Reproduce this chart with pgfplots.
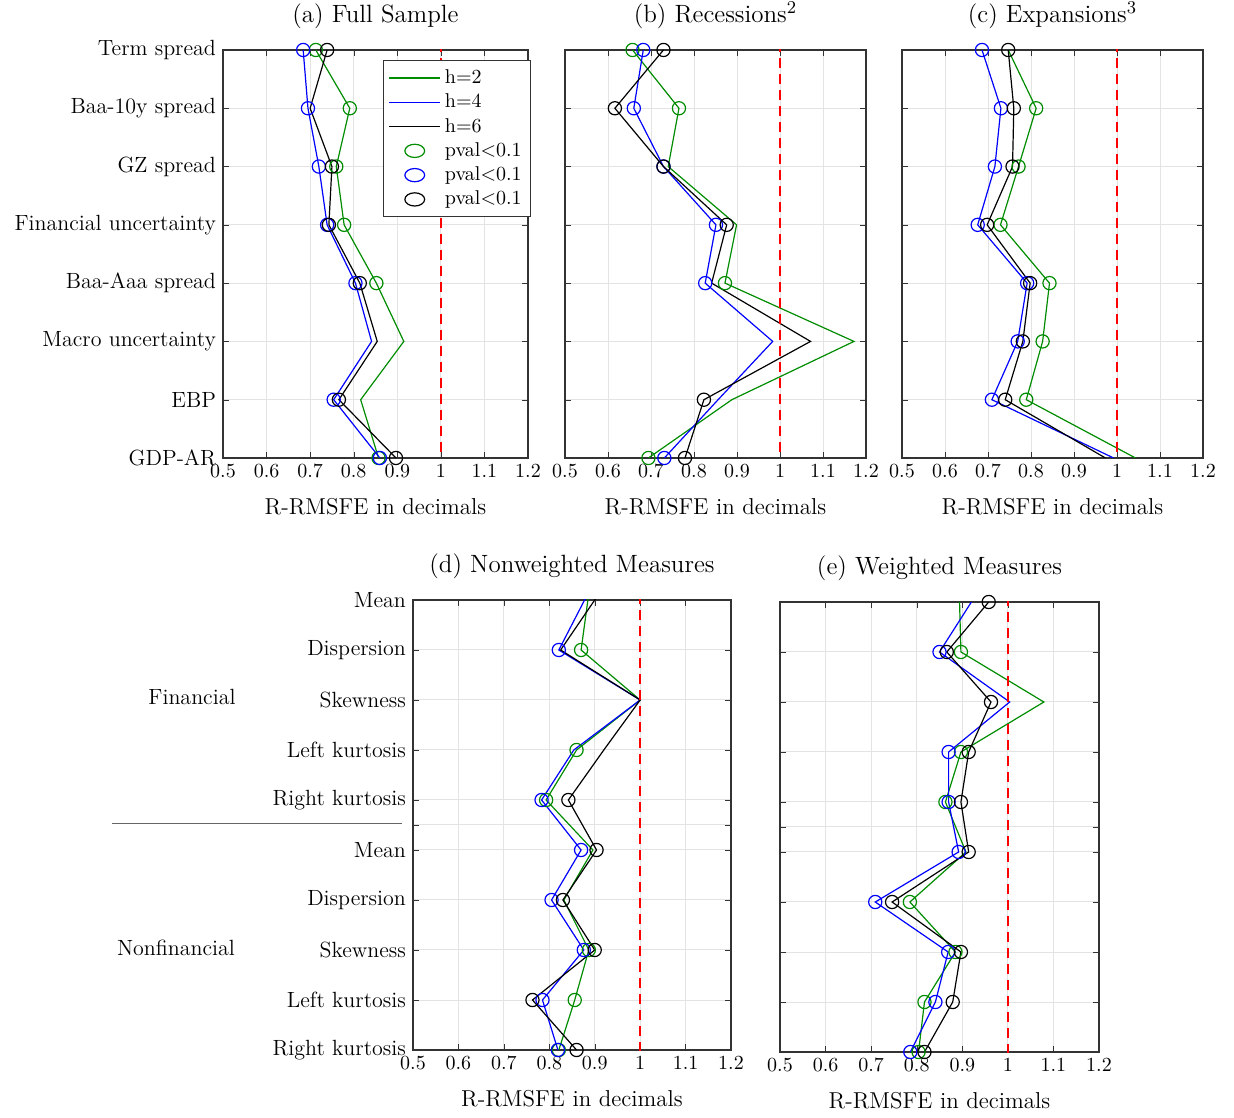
\documentclass[border=0pt]{standalone}
\usepackage{pgfplots}
\pgfplotsset{compat=1.18}
\usepackage{pgfplotstable}
\definecolor{mgreen}{RGB}{0,140,0}
\pgfplotstableread{
y g b k G B K
8 0.713 0.684 0.739 0.713 0.684 0.739
7 0.791 0.695 0.700 0.791 0.695 nan
6 0.760 0.720 0.750 0.760 0.720 0.750
5 0.778 0.739 0.743 0.778 0.739 0.743
4 0.852 0.804 0.814 0.852 0.804 0.814
3 0.915 0.841 0.854 nan nan nan
2 0.816 0.754 0.766 nan 0.754 0.766
1 0.857 0.860 0.897 0.857 0.860 0.897
}\tA
\pgfplotstableread{
y g b k G B K
8 0.657 0.682 0.729 0.657 0.682 0.729
7 0.765 0.660 0.616 0.765 0.660 0.616
6 0.740 0.729 0.729 nan 0.729 0.729
5 0.899 0.851 0.876 nan 0.851 0.876
4 0.872 0.826 0.841 0.872 0.826 nan
3 1.172 0.983 1.071 nan nan nan
2 0.888 0.856 0.823 nan nan 0.823
1 0.694 0.731 0.779 0.694 0.731 0.779
}\tB
\pgfplotstableread{
y g b k G B K
8 0.747 0.686 0.747 nan 0.686 0.747
7 0.812 0.730 0.760 0.812 0.730 0.760
6 0.771 0.716 0.757 0.771 0.716 0.757
5 0.729 0.676 0.698 0.729 0.676 0.698
4 0.843 0.791 0.798 0.843 0.791 0.798
3 0.827 0.769 0.781 0.827 0.769 0.781
2 0.789 0.709 0.740 0.789 0.709 0.740
1 1.043 0.992 0.973 nan nan nan
}\tC
\pgfplotstableread{
y g b k G B K
10.2 0.888 0.889 0.915 nan nan nan
9 0.870 0.821 0.825 0.870 0.821 nan
8 1 1 1 nan nan nan
7 0.86 0.854 0.92 0.86 nan nan
6 0.793 0.783 0.842 0.793 0.783 0.842
5 0.896 0.870 0.904 nan 0.870 0.904
4 0.832 0.805 0.830 nan 0.805 0.830
3 0.887 0.876 0.900 0.887 0.876 0.900
2 0.856 0.785 0.763 0.856 0.785 0.763
1 0.821 0.819 0.86 0.821 0.819 0.86
}\tD
\pgfplotstableread{
y g b k G B K
10 0.894 0.92 0.958 nan nan 0.958
9 0.897 0.850 0.866 0.897 0.850 0.866
8 1.079 1.004 0.963 nan nan 0.963
7 0.897 0.870 0.914 0.897 0.870 0.914
6 0.863 0.870 0.897 0.863 0.870 0.897
5 0.908 0.892 0.914 nan 0.892 0.914
4 0.785 0.709 0.746 0.785 0.709 0.746
3 0.885 0.869 0.897 0.885 0.869 0.897
2 0.817 0.841 0.879 0.817 0.841 0.879
1 0.804 0.786 0.817 0.804 0.786 0.817
}\tE
\pgfplotsset{
 myax/.style={scale only axis, anchor=south west,
  xmin=0.5, xmax=1.2, xtick={0.5,0.6,...,1.2},
  tick align=inside, tick pos=both, major tick length=3pt,
  grid=major, grid style={gray!22, line width=0.5pt},
  axis line style={black!80, line width=0.6pt},
  tick style={black!80},
  ticklabel style={font=\fontsize{9.8}{11}\selectfont},
  xlabel={R-RMSFE in decimals},
  label style={font=\fontsize{11.5}{13}\selectfont},
  xlabel style={yshift=-3.5pt},
  title style={font=\fontsize{12.5}{14}\selectfont, yshift=1pt},
  xticklabel style={/pgf/number format/fixed},
  clip=true},
}
\newcommand{\series}[1]{%
 \addplot[mgreen, line width=0.6pt] table[x=g,y=y]{#1};
 \addplot[blue, line width=0.6pt] table[x=b,y=y]{#1};
 \addplot[black, line width=0.6pt] table[x=k,y=y]{#1};
 \addplot[only marks, mark=o, mark size=3.3pt, mgreen, mark options={line width=0.6pt}] table[x=G,y=y]{#1};
 \addplot[only marks, mark=o, mark size=3.3pt, blue, mark options={line width=0.6pt}] table[x=B,y=y]{#1};
 \addplot[only marks, mark=o, mark size=3.3pt, black, mark options={line width=0.6pt}] table[x=K,y=y]{#1};
 \addplot[red, dashed, line width=0.7pt, dash pattern=on 5pt off 3pt, forget plot] coordinates {(1,0)(1,12)};
}
\begin{document}
\begin{tikzpicture}
\useasboundingbox (0,0) rectangle (617pt,558.5pt);
% (a)
\begin{axis}[myax, at={(111.5pt,329.5pt)}, width=152.5pt, height=204pt,
  ymin=1, ymax=8, ytick={1,...,8},
  yticklabels={GDP-AR,EBP,Macro uncertainty,Baa-Aaa spread,Financial uncertainty,GZ spread,Baa-10y spread,Term spread},
  yticklabel style={font=\fontsize{11}{12}\selectfont},
  title={(a) Full Sample},
  legend style={at={(1.01,0.975)}, anchor=north east, font=\fontsize{10}{11}\selectfont, draw=black!80, cells={anchor=west}, row sep=-0.3pt, inner sep=2.5pt},
  legend image post style={xscale=1.5},
  legend cell align=left]
\series{\tA}
\legend{h=2,h=4,h=6,pval<0.1,pval<0.1,pval<0.1}
\end{axis}
% (b)
\begin{axis}[myax, at={(282.5pt,329.5pt)}, width=150.5pt, height=204pt,
  ymin=1, ymax=8, ytick={1,...,8}, yticklabels={},
  title={(b) Recessions$^2$}]
\series{\tB}
\end{axis}
% (c)
\begin{axis}[myax, at={(451pt,329.5pt)}, width=150.5pt, height=204pt,
  ymin=1, ymax=8, ytick={1,...,8}, yticklabels={},
  title={(c) Expansions$^3$}]
\series{\tC}
\end{axis}
% (d)
\begin{axis}[myax, at={(206.5pt,33.5pt)}, width=159pt, height=225pt,
  ymin=1, ymax=10, ytick={1,2,3,4,5,5.5,6,7,8,9,10},
  yticklabels={Right kurtosis,Left kurtosis,Skewness,Dispersion,Mean,{},Right kurtosis,Left kurtosis,Skewness,Dispersion,Mean},
  yticklabel style={font=\fontsize{11}{12}\selectfont},
  title={(d) Nonweighted Measures}]
\series{\tD}
\end{axis}
% (e)
\begin{axis}[myax, at={(390pt,32.5pt)}, width=159.5pt, height=225pt,
  ymin=1, ymax=10, ytick={1,2,3,4,5,5.5,6,7,8,9,10}, yticklabels={},
  title={(e) Weighted Measures}]
\series{\tE}
\end{axis}
\node[font=\fontsize{11}{12}\selectfont] at (96pt,210pt) {Financial};
\node[font=\fontsize{11}{12}\selectfont] at (88pt,84.5pt) {Nonfinancial};
\draw[black!60, line width=0.4pt] (56pt,147pt) -- (201pt,147pt);
\end{tikzpicture}
\end{document}
